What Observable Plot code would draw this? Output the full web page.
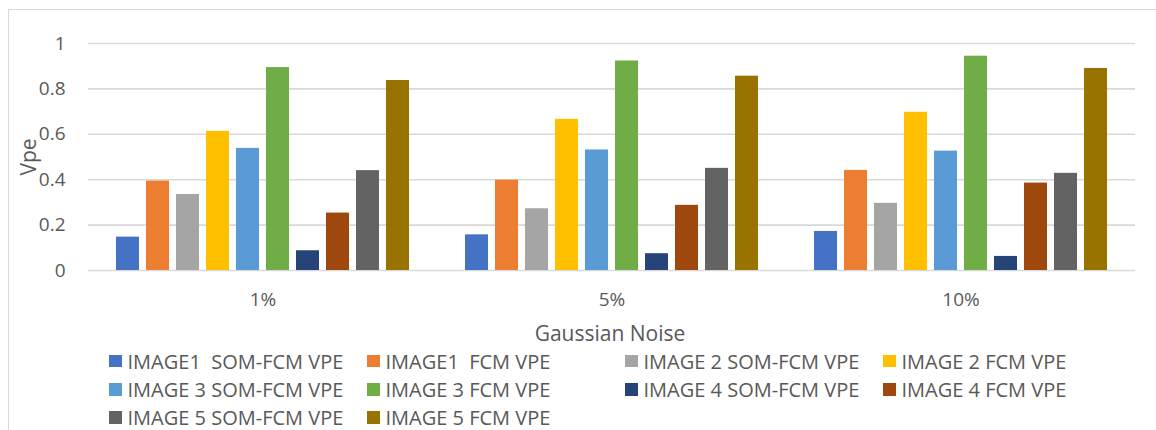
<!DOCTYPE html>
<html>
<head>
<meta charset="utf-8">
<script src="https://cdn.jsdelivr.net/npm/d3@7"></script>
<script src="https://cdn.jsdelivr.net/npm/@observablehq/plot@0.6"></script>
<style>
  html, body { margin: 0; padding: 0; background: #fff; }
  #wrap { position: relative; width: 1156px; height: 430px; overflow: hidden; font-family: "Open Sans", sans-serif; color: #595959; }
  #frame { position: absolute; left: 8px; top: 9px; width: 1170px; height: 440px; border: 1px solid #D9D9D9; box-sizing: border-box; }
  #chart { position: absolute; left: 0; top: 0; }
  #ylabel { position: absolute; left: 28px; top: 157px; transform: translate(-50%, -50%) rotate(-90deg); font-size: 21px; white-space: nowrap; }
  #xlabel { position: absolute; left: 610px; top: 333px; transform: translate(-50%, -50%); font-size: 21px; white-space: nowrap; }
  #legend { position: absolute; left: 109px; top: 347px; display: grid; grid-template-columns: repeat(4, 258px); grid-auto-rows: 28.3px; font-size: 20px; }
  .item { display: flex; align-items: center; white-space: pre; }
  .sw { width: 12.5px; height: 12.5px; margin-right: 6px; flex: none; }
</style>
</head>
<body>
<div id="wrap">
  <div id="frame"></div>
  <div id="chart"></div>
  <div id="ylabel">Vpe</div>
  <div id="xlabel">Gaussian Noise</div>
  <div id="legend"></div>
</div>
<script>
// Noise levels on the x axis
const noiseLevels = ["1%", "5%", "10%"];

// One series per image and clustering method
const seriesNames = [
  "IMAGE1  SOM-FCM VPE", "IMAGE1  FCM VPE",
  "IMAGE 2 SOM-FCM VPE", "IMAGE 2 FCM VPE",
  "IMAGE 3 SOM-FCM VPE", "IMAGE 3 FCM VPE",
  "IMAGE 4 SOM-FCM VPE", "IMAGE 4 FCM VPE",
  "IMAGE 5 SOM-FCM VPE", "IMAGE 5 FCM VPE"
];

const seriesColors = [
  "#4472C4", "#ED7D31", "#A5A5A5", "#FFC000", "#5B9BD5",
  "#70AD47", "#264478", "#9E480E", "#636363", "#997300"
];

// Vpe per series, one array per noise level
const vpeNoise1 = [0.147, 0.394, 0.335, 0.613, 0.538, 0.894, 0.087, 0.253, 0.440, 0.837];
const vpeNoise5 = [0.157, 0.398, 0.272, 0.666, 0.531, 0.923, 0.074, 0.287, 0.450, 0.856];
const vpeNoise10 = [0.172, 0.441, 0.296, 0.697, 0.526, 0.944, 0.062, 0.385, 0.428, 0.890];

const yTicks = [0, 0.2, 0.4, 0.6, 0.8, 1];

const byLevel = [vpeNoise1, vpeNoise5, vpeNoise10];
const rows = noiseLevels.flatMap((noise, i) =>
  seriesNames.map((series, j) => ({noise, series, value: byLevel[i][j]}))
);

const chart = Plot.plot({
  width: 1156,
  height: 316,
  marginTop: 43,
  marginBottom: 46,
  marginLeft: 87,
  marginRight: 20,
  style: {fontFamily: "Open Sans", fontSize: "19px", color: "#595959", background: "transparent", overflow: "visible"},
  fx: {domain: noiseLevels, padding: 0, label: null},
  x: {domain: seriesNames, axis: null, paddingInner: 0.245, paddingOuter: 0.855},
  y: {domain: [0, 1], label: null},
  color: {domain: seriesNames, range: seriesColors},
  marks: [
    Plot.gridY(yTicks, {stroke: "#D9D9D9", strokeOpacity: 1, strokeWidth: 1.6}),
    Plot.barY(rows, {fx: "noise", x: "series", y: "value", fill: "series"}),
    Plot.axisY(yTicks, {tickSize: 0, tickPadding: 23, tickFormat: d => String(d), label: null, fill: "#595959"}),
    Plot.axisFx({anchor: "bottom", tickSize: 0, tickPadding: 22, label: null, fill: "#595959"})
  ]
});
document.getElementById("chart").appendChild(chart);

// Legend, four columns in series order
const legend = document.getElementById("legend");
seriesNames.forEach((name, i) => {
  const item = document.createElement("div");
  item.className = "item";
  const sw = document.createElement("span");
  sw.className = "sw";
  sw.style.background = seriesColors[i];
  const label = document.createElement("span");
  label.textContent = name;
  item.appendChild(sw);
  item.appendChild(label);
  legend.appendChild(item);
});
</script>
</body>
</html>
